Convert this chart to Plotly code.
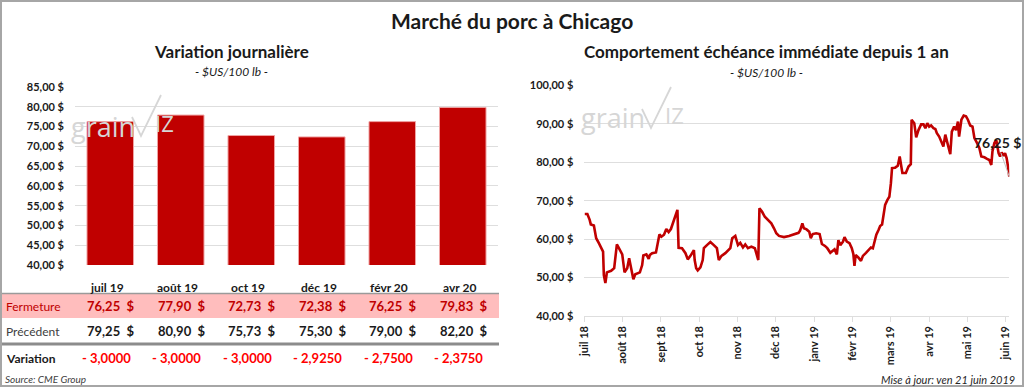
import plotly.graph_objects as go

W, H = 1024, 387
RED = "#C00000"

# ---------------- data ----------------
contracts = ["juil 19", "août 19", "oct 19", "déc 19", "févr 20", "avr 20"]
closes = [76.25, 77.90, 72.73, 72.38, 76.25, 79.83]
previous = [79.25, 80.90, 75.73, 75.30, 79.00, 82.20]
variation = [-3.0, -3.0, -3.0, -2.925, -2.75, -2.375]

left_ticks = [40, 45, 50, 55, 60, 65, 70, 75, 80, 85]
right_ticks = [40, 50, 60, 70, 80, 90, 100]

month_labels = ["juil 18", "août 18", "sept 18", "oct 18", "nov 18", "déc 18",
                "janv 19", "févr 19", "mars 19", "avr 19", "mai 19", "juin 19"]

# time in months since the "juil 18" tick
hist_t = [0.01, 0.08, 0.14, 0.17, 0.25, 0.31, 0.38, 0.44, 0.49, 0.51, 0.55, 0.59, 0.70, 0.78,
          0.85, 0.90, 0.95, 0.99, 1.05, 1.12, 1.17, 1.23, 1.28, 1.33, 1.45, 1.51, 1.54, 1.62,
          1.68, 1.71, 1.77, 1.87, 1.92, 1.96, 2.01, 2.08, 2.14, 2.20, 2.26, 2.32, 2.38, 2.43,
          2.46, 2.55, 2.64, 2.70, 2.77, 2.86, 2.88, 2.92, 2.96, 3.03, 3.09, 3.12, 3.20, 3.29,
          3.38, 3.46, 3.51, 3.58, 3.68, 3.77, 3.81, 3.86, 3.94, 4.01, 4.07, 4.14, 4.20, 4.27,
          4.36, 4.45, 4.49, 4.54, 4.57, 4.64, 4.71, 4.80, 4.88, 4.95, 5.01, 5.08, 5.21, 5.34,
          5.44, 5.50, 5.59, 5.63, 5.69, 5.73, 5.80, 5.87, 5.91, 5.96, 6.05, 6.14, 6.20, 6.28,
          6.34, 6.42, 6.49, 6.53, 6.59, 6.63, 6.68, 6.75, 6.79, 6.85, 6.92, 6.98, 7.02, 7.05,
          7.08, 7.15, 7.22, 7.27, 7.35, 7.42, 7.48, 7.53, 7.56, 7.62, 7.68, 7.72, 7.77, 7.81,
          7.85, 7.91, 7.96, 8.00, 8.03, 8.11, 8.18, 8.23, 8.27, 8.30, 8.39, 8.46, 8.52, 8.54,
          8.61, 8.66, 8.72, 8.79, 8.85, 8.90, 8.95, 9.00, 9.05, 9.11, 9.16, 9.20, 9.26, 9.33,
          9.37, 9.42, 9.49, 9.55, 9.59, 9.65, 9.70, 9.75, 9.78, 9.84, 9.90, 9.96, 10.01, 10.07,
          10.13, 10.18, 10.25, 10.31, 10.36, 10.44, 10.51, 10.57, 10.62, 10.65, 10.70, 10.75,
          10.81, 10.85, 10.89, 10.94, 10.98, 11.02, 11.05, 11.09]
hist_price = [66.5, 66.5, 65.0, 63.8, 63.5, 60.2, 58.9, 57.6, 56.7, 50.6, 48.5, 51.3, 51.7, 52.4,
              58.6, 57.7, 56.5, 56.0, 51.3, 52.4, 55.0, 52.4, 49.5, 50.8, 51.3, 53.2, 55.7, 56.0,
              54.8, 55.8, 56.3, 56.5, 59.3, 61.2, 60.6, 61.1, 62.6, 61.8, 62.6, 64.5, 66.3, 67.6,
              57.7, 57.6, 56.3, 54.7, 55.6, 57.1, 54.5, 52.4, 51.8, 52.6, 54.5, 57.6, 58.4, 59.2,
              58.4, 57.6, 54.5, 55.6, 56.3, 57.1, 57.6, 60.2, 60.8, 58.4, 59.0, 57.8, 58.6, 57.6,
              58.0, 57.6, 56.1, 54.5, 68.0, 67.1, 65.8, 65.0, 64.1, 62.8, 61.5, 60.8, 60.5, 60.8,
              61.2, 61.4, 61.6, 62.2, 64.1, 62.8, 62.5, 61.9, 60.2, 61.3, 61.5, 61.3, 58.7, 58.2,
              57.6, 56.4, 56.9, 57.3, 56.0, 59.7, 58.4, 59.3, 60.5, 59.3, 58.9, 57.6, 56.1, 53.0,
              55.8, 55.2, 54.3, 55.6, 56.4, 57.1, 57.8, 57.6, 58.9, 61.1, 62.4, 63.4, 63.8, 66.7,
              68.9, 70.2, 71.0, 74.5, 78.5, 78.6, 79.1, 81.5, 79.3, 77.2, 77.2, 78.9, 79.5, 91.1,
              90.2, 86.5, 88.4, 89.9, 89.9, 88.9, 90.2, 89.3, 89.6, 88.9, 88.7, 87.6, 86.7, 85.0,
              84.1, 87.2, 84.1, 82.1, 88.0, 89.3, 88.4, 90.6, 86.7, 91.1, 92.2, 92.0, 91.1, 89.6,
              89.3, 86.3, 85.0, 83.7, 81.5, 81.3, 80.9, 80.6, 79.3, 82.8, 85.0, 85.8,
              82.4, 81.5, 82.6, 81.7, 82.4, 81.1, 79.3, 76.25]


def fr(v, d=2):
    return f"{v:.{d}f}".replace(".", ",")


def px(x):
    return x / W


def py(y):
    return 1 - y / H


FONT = "Lato"
TXT = "#1a1a1a"

fig = go.Figure()
fig.add_trace(go.Bar(
    x=contracts, y=closes, width=0.66, xaxis="x", yaxis="y",
    marker=dict(color=RED, line=dict(color="#EFA3A3", width=1)),
    hoverinfo="skip", showlegend=False))
fig.add_trace(go.Scatter(
    x=hist_t, y=hist_price, mode="lines", xaxis="x2", yaxis="y2",
    line=dict(color=RED, width=2.6), hoverinfo="skip", showlegend=False))

grid = "#DEDEDE"

fig.update_layout(
    width=W, height=H, margin=dict(l=0, r=0, t=0, b=0, pad=0, autoexpand=False),
    autosize=False,
    paper_bgcolor="white", plot_bgcolor="white",
    xaxis=dict(domain=[px(75), px(498)], showticklabels=False, showgrid=False,
               zeroline=False, showline=False, fixedrange=True, automargin=False),
    yaxis=dict(domain=[py(265), py(87)], range=[40, 85], tickvals=left_ticks,
               ticktext=[fr(v) + " $" for v in left_ticks],
               tickfont=dict(family=FONT, size=11, color=TXT, weight="bold"),
               showgrid=True, gridcolor=grid, gridwidth=1, zeroline=False,
               ticklabelstandoff=10, fixedrange=True, automargin=False),
    xaxis2=dict(domain=[px(584.3), px(1009.3)], range=[0, 11.09], tickvals=list(range(len(month_labels))),
                ticktext=month_labels, tickangle=-90,
                tickfont=dict(family=FONT, size=11, color=TXT, weight="bold"),
                showgrid=False, zeroline=False, showline=True, linecolor=grid, linewidth=1,
                ticks="outside", ticklen=5, tickcolor=grid, anchor="y2", fixedrange=True, automargin=False),
    yaxis2=dict(domain=[py(315.7), py(85.6)], range=[40, 100], tickvals=right_ticks,
                ticktext=[fr(v) + " $" for v in right_ticks],
                tickfont=dict(family=FONT, size=11, color=TXT, weight="bold"),
                showgrid=True, gridcolor=grid, gridwidth=1, zeroline=False, anchor="x2",
                ticklabelstandoff=10, fixedrange=True, automargin=False),
)

ann = []
shapes = []


def text(x, y, s, size=11, color=TXT, bold=False, italic=False, xanchor="center", family=FONT):
    ann.append(dict(x=px(x), y=py(y), xref="paper", yref="paper", text=s, showarrow=False,
                    xanchor=xanchor, yanchor="middle",
                    font=dict(family=family, size=size, color=color,
                              weight="bold" if bold else "normal",
                              style="italic" if italic else "normal")))


# titles
text(512, 20, "Marché du porc à Chicago", size=21, bold=True)
text(231, 51, "Variation journalière", size=17, bold=True)
text(231, 71, "- $US/100 lb -", size=12, italic=True)
text(766, 52, "Comportement échéance immédiate depuis 1 an", size=17, bold=True)
text(766, 73, "- $US/100 lb -", size=12, italic=True)
text(3, 379, "Source: CME Group", size=10, italic=True, xanchor="left", color="#404040")
text(1017, 379, "Mise à jour: ven 21 juin 2019", size=11, italic=True, xanchor="right", color="#262626")

# table backgrounds / rules
shapes.append(dict(type="rect", xref="paper", yref="paper", x0=px(1), x1=px(499), y0=py(318), y1=py(294),
                   fillcolor="#FFBDBD", line=dict(width=0), layer="below"))
shapes.append(dict(type="line", xref="paper", yref="paper", x0=px(1), x1=px(499), y0=py(293.5), y1=py(293.5),
                   line=dict(color="#9A9A9A", width=1.5)))
shapes.append(dict(type="line", xref="paper", yref="paper", x0=px(1), x1=px(499), y0=py(344), y1=py(344),
                   line=dict(color="#8C8C8C", width=3)))

# table row labels
text(4, 306, "Fermeture", size=12, color=RED, xanchor="left")
text(4, 331, "Précédent", size=12, color="#404040", xanchor="left")
text(4, 358, "Variation", size=12, bold=True, xanchor="left")

# table cells positioned by the bar chart's category axis
for c, cl, pv, vr in zip(contracts, closes, previous, variation):
    ann.append(dict(x=c, y=py(287), xref="x", yref="paper", text=c, showarrow=False, xshift=-3,
                    yanchor="middle", font=dict(family=FONT, size=12, color=TXT, weight="bold")))
    ann.append(dict(x=c, y=py(306), xref="x", yref="paper", text=fr(cl) + "  $", showarrow=False,
                    yanchor="middle", xanchor="right", xshift=27,
                    font=dict(family=FONT, size=13, color=RED, weight="bold")))
    ann.append(dict(x=c, y=py(331), xref="x", yref="paper", text=fr(pv) + "  $", showarrow=False,
                    yanchor="middle", xanchor="right", xshift=27,
                    font=dict(family=FONT, size=13, color=TXT, weight="bold")))
    sign = "- " if vr < 0 else ""
    ann.append(dict(x=c, y=py(358), xref="x", yref="paper", text=sign + fr(abs(vr), 4), showarrow=False,
                    yanchor="middle", xshift=-4,
                    font=dict(family=FONT, size=13, color="#FF0000", weight="bold")))

# last value label on the line chart
ann.append(dict(x=hist_t[-1], y=hist_price[-1], xref="x2", yref="y2", text=fr(hist_price[-1]) + " $",
                showarrow=True, arrowhead=0, arrowwidth=1, arrowcolor="#BFBFBF", ax=-12, ay=-34,
                font=dict(family=FONT, size=14, color=TXT, weight="bold")))


# watermarks
def watermark(x0, y0):
    WM = "#D6D6D6"
    ann.append(dict(x=px(x0), y=py(y0), xref="paper", yref="paper", text="grain", showarrow=False,
                    xanchor="left", yanchor="middle", font=dict(family="Open Sans", size=27, color=WM)))
    shapes.append(dict(type="path", xref="paper", yref="paper",
                       path=f"M {px(x0+63)} {py(y0-9)} L {px(x0+72)} {py(y0+10)} L {px(x0+92)} {py(y0-31)}",
                       line=dict(color=WM, width=1.8)))
    ann.append(dict(x=px(x0+84), y=py(y0-3), xref="paper", yref="paper", text="IZ", showarrow=False,
                    xanchor="left", yanchor="middle", font=dict(family="Open Sans", size=22, color=WM)))


watermark(69, 126)
watermark(579, 118)

# frame
shapes.append(dict(type="rect", xref="paper", yref="paper", x0=px(1), x1=px(1023), y0=py(386), y1=py(1),
                   line=dict(color="#A6A6A6", width=2), fillcolor="rgba(0,0,0,0)"))

fig.update_layout(annotations=ann, shapes=shapes)
fig.write_html("out.html", config={"displayModeBar": False},
               post_script="document.body.style.margin='0';document.body.style.overflow='hidden';")
